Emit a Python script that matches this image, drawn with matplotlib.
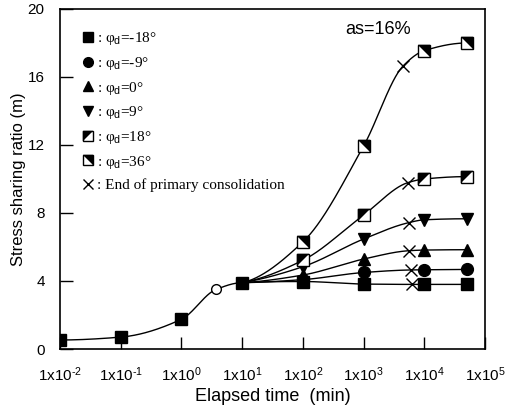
import numpy as np
import matplotlib.pyplot as plt
from matplotlib.lines import Line2D
from matplotlib.legend_handler import HandlerTuple

# common part of the curve (before branching)
time_common = [0.01, 0.1, 1.0, 10.0]
m_common = [0.53, 0.70, 1.75, 3.9]
time_circle = 3.7
m_circle = 3.5

# branches, one per friction angle
time_branch = [10, 100, 1000, 10000, 50000]
m_m18 = [3.9, 3.97, 3.82, 3.80, 3.80]
m_m9 = [3.9, 4.08, 4.50, 4.66, 4.68]
m_0 = [3.9, 4.35, 5.29, 5.82, 5.84]
m_9 = [3.9, 4.84, 6.47, 7.60, 7.66]
m_18 = [3.9, 5.22, 7.88, 10.0, 10.14]
m_36 = [3.9, 6.30, 11.94, 17.55, 18.0]

# end of primary consolidation
eop_time = [6200, 6000, 5500, 5500, 5300, 4530]
eop_m = [3.80, 4.65, 5.78, 7.43, 9.78, 16.67]

labels = ['-18', '-9', '0', '9', '18', '36']

plt.rcParams['mathtext.fontset'] = 'custom'
plt.rcParams['mathtext.rm'] = 'Liberation Sans'
plt.rcParams['mathtext.it'] = 'Liberation Sans:italic'

fig = plt.figure(figsize=(5.16, 4.08), dpi=100)
ax = fig.add_axes([0.1163, 0.1446, 0.8237, 0.8334])


def pchip(x, y, n=300):
    # monotone cubic through the points, in log10(x)
    u = np.log10(np.asarray(x, float))
    y = np.asarray(y, float)
    h = np.diff(u)
    d = np.diff(y) / h
    k = len(u)
    s = np.zeros(k)
    for i in range(1, k - 1):
        if d[i - 1] * d[i] > 0:
            w1 = 2 * h[i] + h[i - 1]
            w2 = h[i] + 2 * h[i - 1]
            s[i] = (w1 + w2) / (w1 / d[i - 1] + w2 / d[i])
    s[0] = ((2 * h[0] + h[1]) * d[0] - h[0] * d[1]) / (h[0] + h[1])
    if np.sign(s[0]) != np.sign(d[0]):
        s[0] = 0
    s[-1] = ((2 * h[-1] + h[-2]) * d[-1] - h[-1] * d[-2]) / (h[-1] + h[-2])
    if np.sign(s[-1]) != np.sign(d[-1]):
        s[-1] = 0
    uu = np.linspace(u[0], u[-1], n)
    idx = np.clip(np.searchsorted(u, uu) - 1, 0, k - 2)
    t = (uu - u[idx]) / h[idx]
    h00 = 2 * t**3 - 3 * t**2 + 1
    h10 = t**3 - 2 * t**2 + t
    h01 = -2 * t**3 + 3 * t**2
    h11 = t**3 - t**2
    yy = h00 * y[idx] + h10 * h[idx] * s[idx] + h01 * y[idx + 1] + h11 * h[idx] * s[idx + 1]
    return 10**uu, yy


# trunk
tc = time_common[:3] + [time_circle] + time_common[3:]
mc = m_common[:3] + [m_circle] + m_common[3:]
xs, ys = pchip(tc, mc)
ax.plot(xs, ys, color='black', lw=1.0, zorder=2)

series = [m_m18, m_m9, m_0, m_9, m_18, m_36]
for vals, te, me in zip(series, eop_time, eop_m):
    tx = time_branch[:3] + [te] + time_branch[3:]
    mx = vals[:3] + [me] + vals[3:]
    xs, ys = pchip(tx, mx)
    ax.plot(xs, ys, color='black', lw=1.0, zorder=2)

ms = 8.5
ul = [(-1, -1), (-1, 1), (1, 1)]   # upper-left triangle
ur = [(-1, 1), (1, 1), (1, -1)]    # upper-right triangle

styles = [
    dict(marker='s', mfc='black'),
    dict(marker='o', mfc='black'),
    dict(marker='^', mfc='black'),
    dict(marker='v', mfc='black'),
    dict(marker='s', mfc='white', half=ul),
    dict(marker='s', mfc='white', half=ur),
]

for vals, st in zip(series, styles):
    ax.plot(time_branch[1:], vals[1:], ls='none', marker=st['marker'], ms=ms,
            mfc=st['mfc'], mec='black', mew=1.0, zorder=3)
    if 'half' in st:
        ax.plot(time_branch[1:], vals[1:], ls='none', marker=st['half'], ms=ms,
                mfc='black', mec='black', mew=0.3, zorder=4)

ax.plot(time_common, m_common, ls='none', marker='s', ms=ms, mfc='black',
        mec='black', zorder=5)
ax.plot([time_circle], [m_circle], ls='none', marker='o', ms=7, mfc='white',
        mec='black', mew=1.0, zorder=5)
ax.plot(eop_time, eop_m, ls='none', marker='x', ms=8, mec='black', mew=1.0,
        zorder=5)

ax.set_xscale('log')
ax.set_xlim(0.01, 1e5)
ax.set_ylim(0, 20)
ax.set_xticks([10.0**e for e in range(-2, 6)])
ax.set_xticklabels([r'1x10$^{\text{%d}}$' % e for e in range(-2, 6)])
ax.xaxis.set_minor_locator(plt.NullLocator())
ax.set_yticks([0, 4, 8, 12, 16, 20])
ax.tick_params(direction='in', length=9, width=1, labelsize=11)
ax.tick_params(axis='x', pad=12)
ax.tick_params(axis='y', pad=11)
for lab in ax.get_xticklabels() + ax.get_yticklabels():
    lab.set_family('Liberation Sans')
for sp in ax.spines.values():
    sp.set_linewidth(1.2)

ax.set_xlabel('Elapsed time  (min)', fontsize=13, family='Liberation Sans', labelpad=3)
ax.set_ylabel('Stress sharing ratio (m)', fontsize=12, family='Liberation Sans', labelpad=1)

ax.text(0.67, 0.925, 'as=16%', transform=ax.transAxes, fontsize=13,
        family='Liberation Sans')

# legend
handles = []
texts = []
for st, lab in zip(styles, labels):
    h = Line2D([], [], ls='none', marker=st['marker'], ms=7,
               mfc=st['mfc'], mec='black')
    if 'half' in st:
        h = (h, Line2D([], [], ls='none', marker=st['half'], ms=7,
                       mfc='black', mec='black', mew=0.3))
    handles.append(h)
    texts.append(': φ$_{\\rm d}$=%s°' % lab)
handles.append(Line2D([], [], ls='none', marker='x', ms=7, mec='black'))
texts.append(': End of primary consolidation')
leg = ax.legend(handles, texts, loc='upper left', frameon=False,
                prop={'family': 'Liberation Serif', 'size': 11},
                handler_map={tuple: HandlerTuple(ndivide=1, pad=0)},
                handlelength=0.6, handletextpad=0.3, labelspacing=0.5,
                borderaxespad=0.0, bbox_to_anchor=(0.04, 0.955))

fig.savefig('out.png', dpi=100)
